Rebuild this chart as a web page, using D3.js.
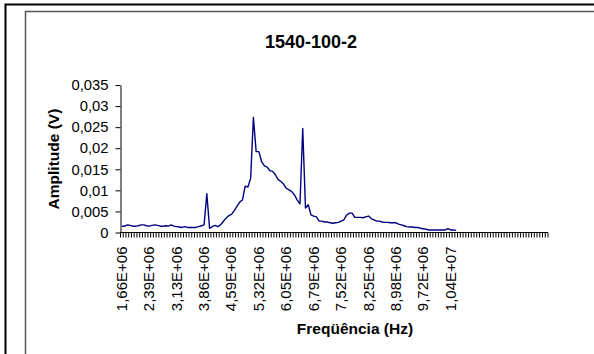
<!DOCTYPE html>
<html><head><meta charset="utf-8">
<script src="https://cdn.jsdelivr.net/npm/d3@7"></script>
<style>
html,body{margin:0;padding:0;background:#fff;overflow:hidden}
text{font-family:"Liberation Sans",Arial,sans-serif;fill:#000}
</style></head>
<body>
<svg id="c" width="594" height="354"></svg>
<script>
const title = "1540-100-2";
const yTitle = "Amplitude (V)";
const xTitle = "Freqüência (Hz)";
const categoryCount = 156;
const labelEvery = 10;
const xTickLabels = ["1,66E+06","2,39E+06","3,13E+06","3,86E+06","4,59E+06","5,32E+06","6,05E+06","6,79E+06","7,52E+06","8,25E+06","8,98E+06","9,72E+06","1,04E+07"];
const yTicks = [0,0.005,0.01,0.015,0.02,0.025,0.03,0.035];
const yTickLabels = ["0","0,005","0,01","0,015","0,02","0,025","0,03","0,035"];
const amplitude = [
0.0015,0.0015,0.0018,0.0017,0.0015,0.0015,0.0016,0.0018,0.0018,0.0016,
0.0015,0.0017,0.0018,0.0017,0.0015,0.0015,0.0016,0.0015,0.0018,0.0015,
0.0014,0.0013,0.0012,0.0014,0.0012,0.0012,0.0012,0.0012,0.0014,0.0016,
0.0018,0.0092,0.0010,0.0014,0.0017,0.0014,0.0018,0.0026,0.0034,0.0040,
0.0043,0.0052,0.0062,0.0072,0.0077,0.0110,0.0108,0.0129,0.0273,0.0192,
0.0192,0.0168,0.0158,0.0155,0.0147,0.0145,0.0137,0.0126,0.0121,0.0115,
0.0105,0.0101,0.0097,0.0089,0.0077,0.0068,0.0247,0.0058,0.0066,0.0042,
0.0039,0.0037,0.0027,0.0027,0.0025,0.0025,0.0023,0.0022,0.0023,0.0024,
0.0027,0.0030,0.0041,0.0046,0.0046,0.0036,0.0036,0.0036,0.0035,0.0037,
0.0039,0.0033,0.0030,0.0027,0.0027,0.0025,0.0024,0.0024,0.0023,0.0023,
0.0023,0.0020,0.0018,0.0016,0.0014,0.0013,0.0013,0.0012,0.0012,0.0010,
0.0009,0.0008,0.0006,0.0006,0.0006,0.0006,0.0006,0.0006,0.0006,0.0009,
0.0006,0.0006,0.0005];

(function(){
const svg = d3.select("#c");
svg.append("rect").attr("x",5.5).attr("y",4.5).attr("width",700).attr("height",500)
  .attr("fill","none").attr("stroke","#000").attr("stroke-width",2);
svg.append("rect").attr("x",25.5).attr("y",11.5).attr("width",700).attr("height",500)
  .attr("fill","none").attr("stroke","#555").attr("stroke-width",1.5);

const pL = 120.5, pR = 548, pT = 85, pB = 232.5;
const cats = d3.range(categoryCount);
const x = d3.scaleBand().domain(cats).range([pL,pR]).padding(0);
const y = d3.scaleLinear().domain([0,0.035]).range([pB,pT]);

svg.append("text").attr("x",311).attr("y",48).attr("text-anchor","middle")
  .style("font-weight","bold").style("font-size","18px").text(title);

const yAxis = d3.axisLeft(y).tickValues(yTicks).tickSize(5).tickSizeOuter(0)
  .tickFormat((d,i)=>yTickLabels[i]);
const gy = svg.append("g").attr("transform",`translate(${pL},0)`).call(yAxis);
gy.select(".domain").attr("stroke","#000");
gy.selectAll(".tick line").attr("stroke","#000");
gy.selectAll(".tick text").attr("x",-12).style("font-size","14.8px")
  .style("font-family","'Liberation Sans',Arial,sans-serif").attr("fill","#000");

const gx = svg.append("g").attr("transform",`translate(0,${pB})`);
gx.append("line").attr("x1",pL).attr("x2",pR).attr("y1",0).attr("y2",0).attr("stroke","#000");
gx.selectAll("line.t").data(cats.concat([categoryCount])).enter().append("line")
  .attr("class","t")
  .attr("x1",d=> d<categoryCount ? x(d) : pR).attr("x2",d=> d<categoryCount ? x(d) : pR)
  .attr("y1",0).attr("y2",5).attr("stroke","#000").attr("stroke-width",1);
gx.selectAll("text.l").data(xTickLabels).enter().append("text").attr("class","l")
  .attr("transform",(d,i)=>`translate(${x(i*labelEvery)+x.bandwidth()/2+5},14) rotate(-90)`)
  .attr("text-anchor","end").style("font-size","15px").text(d=>d);

svg.append("text").attr("transform",`translate(59,159) rotate(-90)`).attr("text-anchor","middle")
  .style("font-weight","bold").style("font-size","15.5px").text(yTitle);
svg.append("text").attr("x",355).attr("y",334).attr("text-anchor","middle")
  .style("font-weight","bold").style("font-size","15.5px").text(xTitle);

const line = d3.line().x((d,i)=>x(i)+x.bandwidth()/2).y(d=>y(d));
svg.append("path").datum(amplitude).attr("d",line).attr("fill","none")
  .attr("stroke","#000080").attr("stroke-width",1.4).attr("stroke-linejoin","round");
})();
</script>
</body></html>
